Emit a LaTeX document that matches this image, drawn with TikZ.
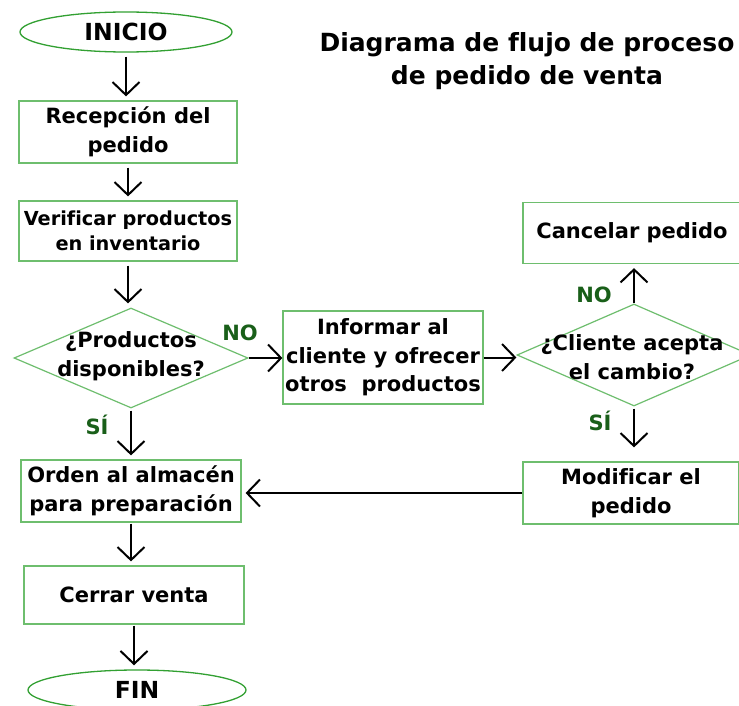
\documentclass[tikz,border=0pt]{standalone}
\usepackage{fontspec}
\setmainfont[Ligatures=NoCommon]{DejaVu Sans}
\usetikzlibrary{arrows.meta,shapes.geometric,calc}
\definecolor{boxgreen}{RGB}{110,190,110}
\definecolor{ovalgreen}{RGB}{50,160,50}
\definecolor{labgreen}{RGB}{25,95,25}
\begin{document}
\begin{tikzpicture}[x=1pt,y=-1pt,
  txt/.style={font=\bfseries\fontsize{21}{28.5}\selectfont, align=center, inner sep=0pt},
  box/.style={txt, draw=boxgreen, line width=1.2pt},
  oval/.style={txt, font=\bfseries\fontsize{23.5}{28}\selectfont, ellipse, draw=ovalgreen, line width=1.3pt},
  dia/.style={diamond, draw=boxgreen, line width=1.2pt, inner sep=0pt},
  lab/.style={font=\bfseries\fontsize{21}{22}\selectfont, text=labgreen, inner sep=0pt},
  arr/.style={draw=black, line width=2pt, -{Straight Barb[length=13pt,width=27pt]}, shorten <=4pt, shorten >=4pt}
]
\useasboundingbox (0,0) rectangle (739,706);
\fill[white] (0,0) rectangle (739,706);

\node[txt, font=\bfseries\fontsize{25}{33}\selectfont] (title) at (527,61) {Diagrama de flujo de proceso\\de pedido de venta};

\node[oval, minimum width=212pt, minimum height=40pt] (ini) at (126,32) {INICIO};
\node[box, minimum width=218pt, minimum height=62pt] (rec) at (128,132) {Recepción del\\pedido};
\node[box, font=\bfseries\fontsize{19.3}{25.5}\selectfont, minimum width=218pt, minimum height=60pt] (ver) at (128,231) {Verificar productos\\en inventario};
\node[dia, minimum width=234pt, minimum height=100pt, shape aspect=2.34] (d1) at (131,358) {};
\node[txt] (d1t) at (131,356) {¿Productos\\disponibles?};
\node[box, minimum width=200pt, minimum height=93pt] (inf) at (383,357.5) {Informar al\\cliente y ofrecer\\otros\ \ productos};
\node[dia, minimum width=234pt, minimum height=102pt, shape aspect=2.3] (d2) at (634,355) {};
\node[txt] (d2t) at (632,357) {¿Cliente acepta\\el cambio?};
\node[box, minimum width=218pt, minimum height=61pt] (can) at (632,233) {Cancelar pedido};
\node[box, minimum width=216pt, minimum height=62pt] (mod) at (631,493) {Modificar el\\pedido};
\node[box, minimum width=220pt, minimum height=62pt] (ord) at (131,491) {Orden al almacén\\para preparación};
\node[box, minimum width=220pt, minimum height=58pt] (cer) at (134,595) {Cerrar venta};
\node[oval, minimum width=218pt, minimum height=40pt] (fin) at (137,690) {FIN};

\node[lab] (no1) at (240,333) {NO};
\node[lab] (no2) at (594,295) {NO};
\node[lab] (si1) at (97,425) {SÍ};
\node[lab] (si2) at (600,421) {SÍ};

\draw[arr] (ini.south) -- (ini.south |- rec.north);
\draw[arr] (rec.south) -- (rec.south |- ver.north);
\draw[arr] (ver.south) -- (ver.south |- d1.north);
\draw[arr, shorten <=0pt, shorten >=0pt] (d1.east) -- (d1.east -| inf.west);
\draw[arr, shorten <=0pt, shorten >=0pt] (inf.east) -- (inf.east -| d2.west);
\draw[arr, shorten <=0pt] (d2.north) -- (d2.north |- can.south);
\draw[arr, shorten <=2pt, shorten >=14pt] (d2.south) -- (d2.south |- mod.north);
\draw[arr, shorten <=0pt] (mod.west) -- (mod.west -| ord.east);
\draw[arr, shorten <=2pt] (d1.south) -- (d1.south |- ord.north);
\draw[arr, shorten <=1pt] (ord.south) -- (ord.south |- cer.north);
\draw[arr, shorten <=1pt] (cer.south) -- (cer.south |- fin.north);
\end{tikzpicture}
\end{document}
